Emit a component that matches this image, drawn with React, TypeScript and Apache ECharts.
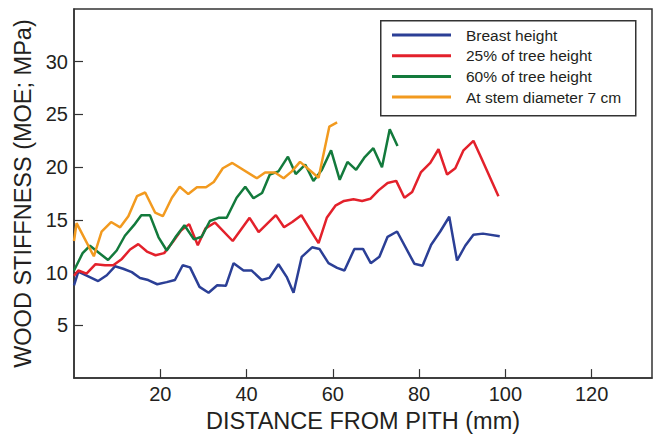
import React, { useEffect, useRef } from "react";
import * as echarts from "echarts";

const seriesNames = [
  "Breast height",
  "25% of tree height",
  "60% of tree height",
  "At stem diameter 7 cm",
];

const breastX = [0, 1.0, 5.6, 7.6, 9.5, 11.4, 13.4, 15.3, 17.2, 19.3, 21.5, 23.4, 25.2, 26.9, 29.1, 31.2, 33.2, 35.2, 37.0, 39.3, 41.2, 43.5, 45.3, 47.4, 49.3, 50.9, 52.8, 55.2, 56.9, 59.0, 61.0, 62.7, 65.0, 67.0, 68.8, 70.8, 72.7, 74.9, 78.9, 80.8, 82.8, 84.9, 87.0, 88.8, 90.7, 92.6, 94.8, 98.7];
const breastY = [8.8, 10.1, 9.2, 9.75, 10.6, 10.37, 10.05, 9.5, 9.3, 8.9, 9.1, 9.3, 10.7, 10.5, 8.65, 8.1, 8.8, 8.75, 10.9, 10.2, 10.2, 9.3, 9.5, 10.8, 9.6, 8.1, 11.5, 12.4, 12.25, 10.9, 10.45, 10.2, 12.25, 12.25, 10.9, 11.5, 13.4, 13.9, 10.85, 10.65, 12.65, 13.9, 15.3, 11.15, 12.55, 13.6, 13.7, 13.45];

const pct25X = [0, 1.0, 2.9, 5.0, 7.2, 9.1, 11.1, 13.0, 14.9, 16.9, 18.9, 20.9, 22.9, 24.8, 26.7, 28.7, 30.5, 32.7, 36.8, 40.7, 42.8, 46.8, 48.7, 50.6, 52.7, 54.7, 56.7, 58.6, 60.6, 62.6, 64.8, 66.8, 68.7, 70.6, 72.7, 74.7, 76.6, 78.4, 80.4, 82.6, 84.5, 86.5, 88.4, 90.3, 92.6, 94.4, 98.4];
const pct25Y = [9.7, 10.2, 9.9, 10.8, 10.7, 10.7, 11.3, 12.2, 12.7, 12.0, 11.65, 11.85, 12.9, 14.0, 14.6, 12.6, 14.2, 14.75, 13.0, 15.2, 13.85, 15.45, 14.3, 14.8, 15.45, 14.1, 12.8, 15.2, 16.35, 16.8, 16.95, 16.8, 17.0, 17.8, 18.5, 18.7, 17.1, 17.65, 19.5, 20.4, 21.7, 19.3, 19.9, 21.6, 22.5, 20.9, 17.25];

const pct60X = [0, 2.0, 3.7, 7.9, 9.9, 11.8, 13.9, 15.6, 17.6, 19.6, 21.5, 23.5, 25.6, 27.8, 29.6, 31.5, 33.5, 35.4, 37.7, 39.7, 41.6, 43.6, 45.4, 47.4, 49.6, 51.4, 53.6, 55.5, 57.4, 59.6, 61.6, 63.4, 65.4, 67.3, 69.4, 71.4, 73.2, 75.0];
const pct60Y = [10.2, 11.85, 12.55, 11.2, 12.1, 13.5, 14.5, 15.45, 15.45, 13.35, 12.1, 13.35, 14.5, 13.15, 13.4, 14.9, 15.2, 15.2, 17.1, 18.15, 17.05, 17.55, 19.3, 19.6, 21.0, 19.35, 20.25, 18.7, 19.7, 21.6, 18.8, 20.5, 19.75, 20.9, 21.8, 20.0, 23.6, 22.0];

const stemX = [0, 0.6, 4.6, 6.4, 8.6, 10.7, 12.6, 14.6, 16.5, 18.8, 20.6, 22.7, 24.5, 26.5, 28.5, 30.6, 32.4, 34.5, 36.7, 42.4, 44.3, 46.6, 48.6, 50.5, 52.4, 56.7, 59.2, 61.0];
const stemY = [13.0, 14.7, 11.55, 13.9, 14.8, 14.3, 15.35, 17.25, 17.6, 15.7, 15.35, 17.1, 18.15, 17.45, 18.1, 18.1, 18.6, 19.9, 20.4, 18.95, 19.5, 19.5, 18.95, 19.6, 20.5, 19.0, 23.85, 24.25];

const xTickLabels = ["20", "40", "60", "80", "100", "120"];
const yTickLabels = ["5", "10", "15", "20", "25", "30"];

const colors = ["#2b3f96", "#e3212b", "#137a3c", "#f29a1f"];
const FONT = "'Liberation Sans', Arial, sans-serif";

const pair = (xs: number[], ys: number[]) => xs.map((x, i) => [x, ys[i]]);

export default function App() {
  const ref = useRef<HTMLDivElement>(null);
  useEffect(() => {
    if (!ref.current) return;
    const chart = echarts.init(ref.current, null, { renderer: "svg" });
    const allData = [
      pair(breastX, breastY),
      pair(pct25X, pct25Y),
      pair(pct60X, pct60Y),
      pair(stemX, stemY),
    ];
    chart.setOption({
      animation: false,
      backgroundColor: "#ffffff",
      textStyle: { fontFamily: FONT },
      grid: {
        left: 74,
        right: 2,
        top: 9,
        bottom: 55,
        show: true,
        borderColor: "#333333",
        borderWidth: 1.5,
        backgroundColor: "transparent",
      },
      graphic: [
        {
          type: "rect",
          left: 380,
          top: 20,
          z: 1,
          shape: { width: 255, height: 95 },
          style: { fill: "#ffffff", stroke: "#333333", lineWidth: 1.5 },
        },
      ],
      legend: {
        orient: "vertical",
        left: 392,
        top: 26,
        padding: 0,
        itemWidth: 59,
        itemHeight: 3,
        itemGap: 2.7,
        icon: "rect",
        z: 5,
        data: seriesNames,
        textStyle: {
          fontFamily: FONT,
          fontSize: 15.5,
          lineHeight: 18,
          color: "#231f20",
          padding: [0, 0, 0, 10],
        },
      },
      xAxis: {
        type: "value",
        min: 0,
        max: 134,
        interval: 20,
        name: "DISTANCE FROM PITH (mm)",
        nameLocation: "middle",
        nameGap: 28,
        nameTextStyle: { fontFamily: FONT, fontSize: 23.5, color: "#231f20" },
        splitLine: { show: false },
        axisLine: { show: true, lineStyle: { color: "#333333", width: 1.5 } },
        axisTick: { show: true, inside: true, length: 9, lineStyle: { color: "#333333", width: 1.2 } },
        axisLabel: {
          showMinLabel: false,
          showMaxLabel: false,
          margin: 6,
          fontFamily: FONT,
          fontSize: 20,
          color: "#231f20",
          formatter: (v: number) => (xTickLabels.includes(String(v)) ? String(v) : ""),
        },
      },
      yAxis: {
        type: "value",
        min: 0,
        max: 35,
        interval: 5,
        name: "WOOD STIFFNESS (MOE; MPa)",
        nameLocation: "middle",
        nameGap: 35,
        nameTextStyle: { fontFamily: FONT, fontSize: 23.5, color: "#231f20" },
        splitLine: { show: false },
        axisLine: { show: true, lineStyle: { color: "#333333", width: 1.5 } },
        axisTick: { show: true, inside: true, length: 9, lineStyle: { color: "#333333", width: 1.2 } },
        axisLabel: {
          showMinLabel: false,
          showMaxLabel: false,
          margin: 6,
          fontFamily: FONT,
          fontSize: 20,
          color: "#231f20",
          formatter: (v: number) => (yTickLabels.includes(String(v)) ? String(v) : ""),
        },
      },
      series: seriesNames.map((name, i) => ({
        name,
        type: "line",
        data: allData[i],
        showSymbol: false,
        symbol: "none",
        color: colors[i],
        lineStyle: { color: colors[i], width: 2.5 },
        z: 2 + i,
      })),
    });
    return () => chart.dispose();
  }, []);
  return (
    <div
      ref={ref}
      style={{ position: "fixed", left: 0, top: 0, width: 654, height: 438, background: "#fff" }}
    />
  );
}
